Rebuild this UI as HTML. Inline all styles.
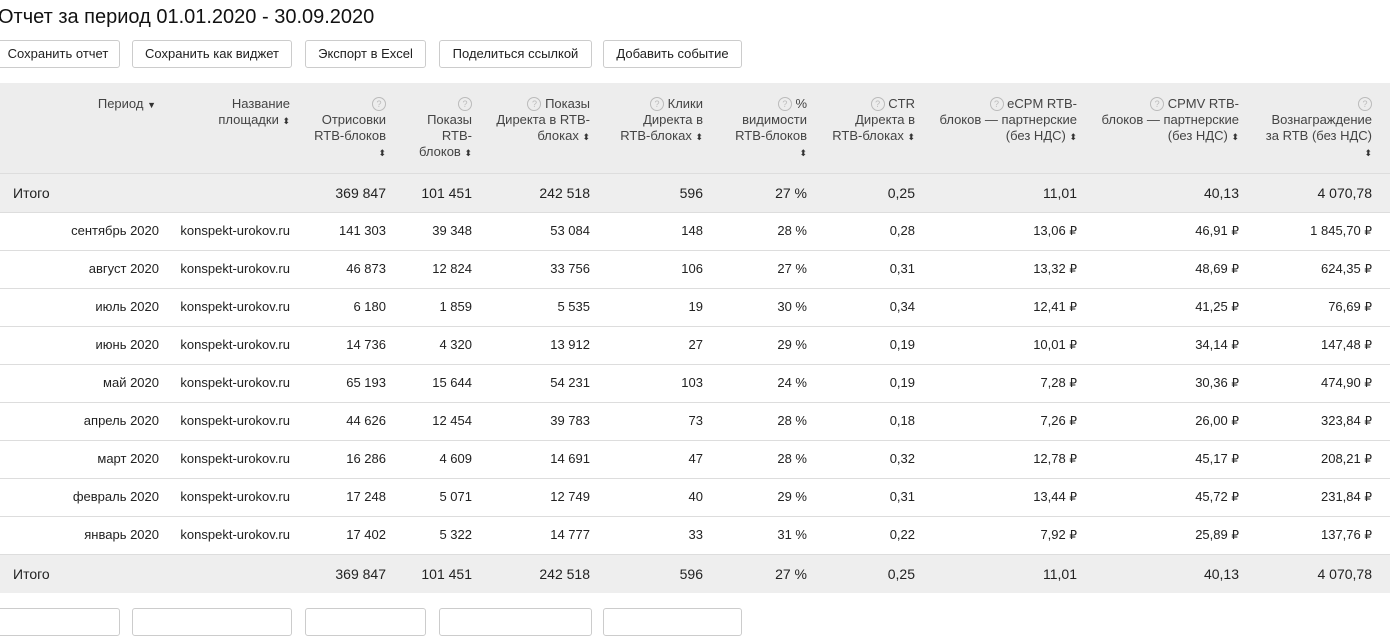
<!DOCTYPE html>
<html><head><meta charset="utf-8"><style>
*{margin:0;padding:0;box-sizing:border-box}
body{width:1390px;height:613px;overflow:hidden;background:#fff;font-family:"Liberation Sans",sans-serif;color:#222;position:relative}
h1{position:absolute;left:-2px;top:6px;font-size:20px;font-weight:normal;color:#111}
.b{position:absolute;height:28px;border:1px solid #ccc;border-radius:3px;background:#fff;font-size:13px;line-height:26px;text-align:center;color:#222}
table{position:absolute;left:0;top:83px;width:1390px;border-collapse:collapse;table-layout:fixed}
td,th{text-align:right;font-size:13px;white-space:nowrap;padding:0}
th{font-weight:normal;color:#444;vertical-align:top;line-height:16px;padding-top:13px;height:90px;background:#ededed;border-bottom:1px solid #ddd}
td{height:38px;border-bottom:1px solid #ddd;line-height:16px;vertical-align:middle}
tr.t td{background:#eee;font-size:14px;height:39px}
.q{display:inline-block;width:14px;height:14px;border:1px solid #bbb;border-radius:50%;font-size:9px;line-height:12px;text-align:center;color:#bbb;vertical-align:1px}
.s{font-size:9px;color:#333}
.r{font-family:"Liberation Sans","DejaVu Sans",sans-serif;font-size:12px;line-height:16px;vertical-align:0}
</style></head><body>
<h1>Отчет за период 01.01.2020 - 30.09.2020</h1>
<div class="b" style="left:-4px;top:40px;width:124px">Сохранить отчет</div>
<div class="b" style="left:132px;top:40px;width:160px">Сохранить как виджет</div>
<div class="b" style="left:305px;top:40px;width:121px">Экспорт в Excel</div>
<div class="b" style="left:439px;top:40px;width:153px">Поделиться ссылкой</div>
<div class="b" style="left:603px;top:40px;width:139px">Добавить событие</div>
<table>
<colgroup><col style="width:159px"><col style="width:131px"><col style="width:96px"><col style="width:86px"><col style="width:118px"><col style="width:113px"><col style="width:104px"><col style="width:108px"><col style="width:162px"><col style="width:162px"><col style="width:133px"><col style="width:18px"></colgroup>
<tr><th style="padding-right:3px">Период <span class="s">▼</span></th><th>Название<br>площадки <span class="s">⬍</span></th><th><span class="q">?</span><br>Отрисовки<br>RTB-блоков<br><span class="s">⬍</span></th><th><span class="q">?</span><br>Показы<br>RTB-<br>блоков <span class="s">⬍</span></th><th><span class="q">?</span> Показы<br>Директа в RTB-<br>блоках <span class="s">⬍</span></th><th><span class="q">?</span> Клики<br>Директа в<br>RTB-блоках <span class="s">⬍</span></th><th><span class="q">?</span> %<br>видимости<br>RTB-блоков<br><span class="s">⬍</span></th><th><span class="q">?</span> CTR<br>Директа в<br>RTB-блоках <span class="s">⬍</span></th><th><span class="q">?</span> eCPM RTB-<br>блоков — партнерские<br>(без НДС) <span class="s">⬍</span></th><th><span class="q">?</span> CPMV RTB-<br>блоков — партнерские<br>(без НДС) <span class="s">⬍</span></th><th><span class="q">?</span><br>Вознаграждение<br>за RTB (без НДС)<br><span class="s">⬍</span></th><th></th></tr>
<tr class="t"><td style="text-align:left;padding-left:13px">Итого</td><td></td><td>369 847</td><td>101 451</td><td>242 518</td><td>596</td><td>27 %</td><td>0,25</td><td>11,01</td><td>40,13</td><td>4 070,78</td><td></td></tr>
<tr><td>сентябрь 2020</td><td>konspekt-urokov.ru</td><td>141 303</td><td>39 348</td><td>53 084</td><td>148</td><td>28 %</td><td>0,28</td><td>13,06 <span class="r">₽</span></td><td>46,91 <span class="r">₽</span></td><td>1 845,70 <span class="r">₽</span></td><td></td></tr>
<tr><td>август 2020</td><td>konspekt-urokov.ru</td><td>46 873</td><td>12 824</td><td>33 756</td><td>106</td><td>27 %</td><td>0,31</td><td>13,32 <span class="r">₽</span></td><td>48,69 <span class="r">₽</span></td><td>624,35 <span class="r">₽</span></td><td></td></tr>
<tr><td>июль 2020</td><td>konspekt-urokov.ru</td><td>6 180</td><td>1 859</td><td>5 535</td><td>19</td><td>30 %</td><td>0,34</td><td>12,41 <span class="r">₽</span></td><td>41,25 <span class="r">₽</span></td><td>76,69 <span class="r">₽</span></td><td></td></tr>
<tr><td>июнь 2020</td><td>konspekt-urokov.ru</td><td>14 736</td><td>4 320</td><td>13 912</td><td>27</td><td>29 %</td><td>0,19</td><td>10,01 <span class="r">₽</span></td><td>34,14 <span class="r">₽</span></td><td>147,48 <span class="r">₽</span></td><td></td></tr>
<tr><td>май 2020</td><td>konspekt-urokov.ru</td><td>65 193</td><td>15 644</td><td>54 231</td><td>103</td><td>24 %</td><td>0,19</td><td>7,28 <span class="r">₽</span></td><td>30,36 <span class="r">₽</span></td><td>474,90 <span class="r">₽</span></td><td></td></tr>
<tr><td>апрель 2020</td><td>konspekt-urokov.ru</td><td>44 626</td><td>12 454</td><td>39 783</td><td>73</td><td>28 %</td><td>0,18</td><td>7,26 <span class="r">₽</span></td><td>26,00 <span class="r">₽</span></td><td>323,84 <span class="r">₽</span></td><td></td></tr>
<tr><td>март 2020</td><td>konspekt-urokov.ru</td><td>16 286</td><td>4 609</td><td>14 691</td><td>47</td><td>28 %</td><td>0,32</td><td>12,78 <span class="r">₽</span></td><td>45,17 <span class="r">₽</span></td><td>208,21 <span class="r">₽</span></td><td></td></tr>
<tr><td>февраль 2020</td><td>konspekt-urokov.ru</td><td>17 248</td><td>5 071</td><td>12 749</td><td>40</td><td>29 %</td><td>0,31</td><td>13,44 <span class="r">₽</span></td><td>45,72 <span class="r">₽</span></td><td>231,84 <span class="r">₽</span></td><td></td></tr>
<tr><td>январь 2020</td><td>konspekt-urokov.ru</td><td>17 402</td><td>5 322</td><td>14 777</td><td>33</td><td>31 %</td><td>0,22</td><td>7,92 <span class="r">₽</span></td><td>25,89 <span class="r">₽</span></td><td>137,76 <span class="r">₽</span></td><td></td></tr>
<tr class="t"><td style="text-align:left;padding-left:13px;border-bottom:none">Итого</td><td style="border-bottom:none"></td><td style="border-bottom:none">369 847</td><td style="border-bottom:none">101 451</td><td style="border-bottom:none">242 518</td><td style="border-bottom:none">596</td><td style="border-bottom:none">27 %</td><td style="border-bottom:none">0,25</td><td style="border-bottom:none">11,01</td><td style="border-bottom:none">40,13</td><td style="border-bottom:none">4 070,78</td><td style="border-bottom:none"></td></tr>
</table>
<div class="b" style="left:-4px;top:608px;width:124px"></div>
<div class="b" style="left:132px;top:608px;width:160px"></div>
<div class="b" style="left:305px;top:608px;width:121px"></div>
<div class="b" style="left:439px;top:608px;width:153px"></div>
<div class="b" style="left:603px;top:608px;width:139px"></div>
</body></html>
